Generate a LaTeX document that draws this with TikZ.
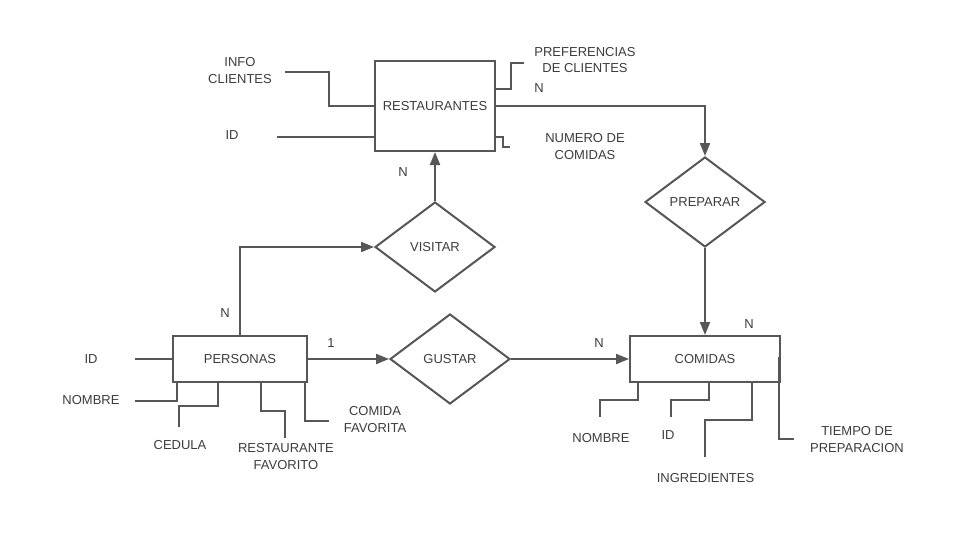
\documentclass[tikz,border=0pt]{standalone}
\usepackage{fontspec}
\setmainfont{Liberation Sans}
\usepackage{xcolor}
\usetikzlibrary{shapes.geometric,arrows.meta}
\definecolor{linea}{HTML}{575757}
\definecolor{letra}{HTML}{3C3C3C}
\tikzset{
  entidad/.style={draw=linea,rectangle,inner sep=0pt},
  relacion/.style={draw=linea,diamond,aspect=1.33,minimum width=120pt,minimum height=90pt,inner sep=0pt},
  atrib/.style={align=center},
  flecha/.style={-{Triangle[length=13pt,width=10pt]}},
}

\begin{document}
\begin{tikzpicture}[x=1pt,y=-1pt,line width=2pt,color=linea,text=letra,font=\fontsize{13}{16.5}\selectfont]
        \useasboundingbox (0,0) rectangle (971,541);
        \node[entidad,minimum width=120pt,minimum height=90pt] (rest) at (435,106) {RESTAURANTES};
        \node[entidad,minimum width=134pt,minimum height=46pt] (pers) at (240,359) {PERSONAS};
        \node[entidad,minimum width=150pt,minimum height=46pt] (com) at (705,359) {COMIDAS};
        \node[relacion] (prep) at (705,202) {PREPARAR};
        \node[relacion] (vis) at (435,247) {VISITAR};
        \node[relacion] (gus) at (450,359) {GUSTAR};
        \draw[flecha] (vis.north) -- (rest.south);
        \draw[flecha] (pers.north) |- (vis.west);
        \draw[flecha] (pers.east) -- (gus.west);
        \draw[flecha] (gus.east) -- (com.west);
        \draw[flecha] (rest.east) -| (prep.north);
        \draw[flecha] (prep.south) -- (com.north);
        \foreach \c/\p [count=\i] in {N/{539,88},N/{403,172},N/{225,313},1/{331,343},N/{599,343},N/{749,324}}
            \node (card\i) at (\p) {\c};
        \coordinate (infoR) at (285,72);
        \coordinate (idR) at (277,137);
        \coordinate (prefR) at (524,63);
        \coordinate (numR) at (510,147);
        \draw (rest.west) -| (329,72) -- (infoR);
        \draw (idR) -- (idR -| rest.west);
        \draw (rest.east |- 0,89) -| (511,63) -- (prefR);
        \draw (rest.east |- 0,137) -| (503,147) -- (numR);
        \node[atrib] (tinfoR) at (240,70.5) {INFO\\CLIENTES};
        \node[atrib] (tidR) at (232,135) {ID};
        \node[atrib] (tprefR) at (585,60) {PREFERENCIAS\\DE CLIENTES};
        \node[atrib] (tnumR) at (585,146.5) {NUMERO DE\\COMIDAS};
        \coordinate (idP) at (135,359);
        \coordinate (nomP) at (135,401);
        \coordinate (cedP) at (179,427);
        \coordinate (resP) at (285,438);
        \coordinate (comP) at (329,421);
        \draw (idP) -- (pers.west);
        \draw (177,0 |- pers.south) |- (nomP);
        \draw (218,0 |- pers.south) |- (179,406) -- (cedP);
        \draw (261,0 |- pers.south) |- (285,411) -- (resP);
        \draw (305,0 |- pers.south) |- (comP);
        \node[atrib] (tidP) at (91,359) {ID};
        \node[atrib] (tnomP) at (91,400) {NOMBRE};
        \node[atrib] (tcedP) at (180,445.5) {CEDULA};
        \node[atrib] (tresP) at (286,456.5) {RESTAURANTE\\FAVORITO};
        \node[atrib] (tcomP) at (375,419.5) {COMIDA\\FAVORITA};
        \coordinate (nomC) at (600,417);
        \coordinate (idC) at (671,417);
        \coordinate (ingC) at (705,457);
        \coordinate (tieC) at (794,439);
        \draw (638,0 |- com.south) |- (600,400) -- (nomC);
        \draw (709,0 |- com.south) |- (671,400) -- (idC);
        \draw (752,0 |- com.south) |- (705,420) -- (ingC);
        \draw (779,357) |- (tieC);
        \node[atrib] (tnomC) at (601,438) {NOMBRE};
        \node[atrib] (tidC) at (668,435.5) {ID};
        \node[atrib] (tingC) at (705.5,478) {INGREDIENTES};
        \node[atrib] (ttieC) at (857,439.5) {TIEMPO DE\\PREPARACION};
    \end{tikzpicture}
\end{document}
